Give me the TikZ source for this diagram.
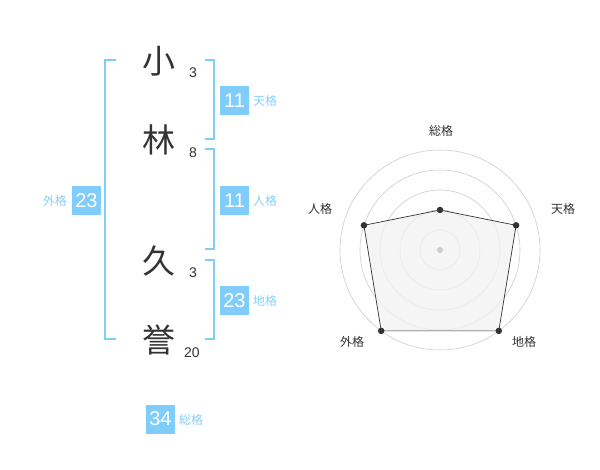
\documentclass[tikz,border=0pt]{standalone}
\usepackage{fontspec}
\usetikzlibrary{calc}
\setmainfont{Liberation Sans}
\newfontfamily\cjk{Noto Sans CJK JP}
\definecolor{kblue}{HTML}{80CCFA}
\definecolor{klabel}{HTML}{86CFFA}
\definecolor{ktext}{HTML}{333333}
\definecolor{kgrid}{HTML}{CCCCCC}
\definecolor{kfill}{HTML}{F2F2F2}
\tikzset{
  kanji/.style={font=\cjk\fontsize{33}{33}\selectfont, text=ktext, inner sep=0pt},
  strokes/.style={font=\fontsize{14}{14}\selectfont, text=ktext, inner sep=0pt},
  numbox/.style={fill=kblue, text=white, minimum width=29pt, minimum height=29pt, inner sep=0pt, font=\fontsize{20}{20}\selectfont},
  kakulabel/.style={text=klabel, font=\cjk\fontsize{12}{12}\selectfont, inner sep=0pt, anchor=west},
  brack/.style={draw=kblue, line width=1.6pt},
  radarlabel/.style={text=ktext, font=\cjk\fontsize{12}{12}\selectfont, inner sep=0pt},
  gridc/.style={draw=kgrid, line width=0.6pt},
  dot/.style={circle, fill=ktext, inner sep=0pt, minimum size=6.5pt}
}
\begin{document}
\begin{tikzpicture}[x=1pt,y=-1pt]
\useasboundingbox (0,0) rectangle (600,470);
% kanji
\node[kanji] (k1) at (159,61) {小};
\node[kanji] (k2) at (159,140) {林};
\node[kanji] (k3) at (159,261) {久};
\node[kanji] (k4) at (159,340) {誉};
\node[strokes] (s1) at (193,73) {3};
\node[strokes] (s2) at (193,153) {8};
\node[strokes] (s3) at (193,273) {3};
\node[strokes] (s4) at (192,353) {20};
% brackets
\draw[brack] (116,60) -- (105,60) -- (105,339) -- (116,339);
\draw[brack] (205,60) -- (214,60) -- (214,139) -- (205,139);
\draw[brack] (205,149) -- (214,149) -- (214,249) -- (205,249);
\draw[brack] (205,260) -- (214,260) -- (214,339) -- (205,339);
% boxes
\node[numbox] (ten) at (234.5,100.5) {11};
\node[kakulabel] (tenl) at (253,101) {天格};
\node[numbox] (jin) at (234.5,200.5) {11};
\node[kakulabel] (jinl) at (253,201) {人格};
\node[numbox] (chi) at (234.5,300.5) {23};
\node[kakulabel] (chil) at (253,301) {地格};
\node[numbox] (gai) at (86.5,200.5) {23};
\node[kakulabel, anchor=east] (gail) at (67,201) {外格};
\node[numbox] (sou) at (160.5,419) {34};
\node[kakulabel] (soul) at (179,420) {総格};
% radar
\coordinate (c) at (440,250);
\foreach \r in {20,40,60,80,100} \draw[gridc] (c) circle[radius=\r];
\coordinate (pS) at ($(c)+(0,-40)$);
\coordinate (pT) at ($(c)+(76.1,-24.7)$);
\coordinate (pC) at ($(c)+(58.8,80.9)$);
\coordinate (pG) at ($(c)+(-58.8,80.9)$);
\coordinate (pJ) at ($(c)+(-76.1,-24.7)$);
\draw[fill=kfill, fill opacity=0.8, draw=ktext, line width=0.7pt] (pS) -- (pT) -- (pC) -- (pG) -- (pJ) -- cycle;
\foreach \p in {pS,pT,pC,pG,pJ} \node[dot] at (\p) {};
\node[circle, fill=kgrid, inner sep=0pt, minimum size=6pt] (cd) at (c) {};
\node[radarlabel] (rS) at (441,131) {総格};
\node[radarlabel] (rT) at (563,209) {天格};
\node[radarlabel] (rJ) at (320,209) {人格};
\node[radarlabel] (rG) at (352,342) {外格};
\node[radarlabel] (rC) at (524,342) {地格};
\end{tikzpicture}
\end{document}
